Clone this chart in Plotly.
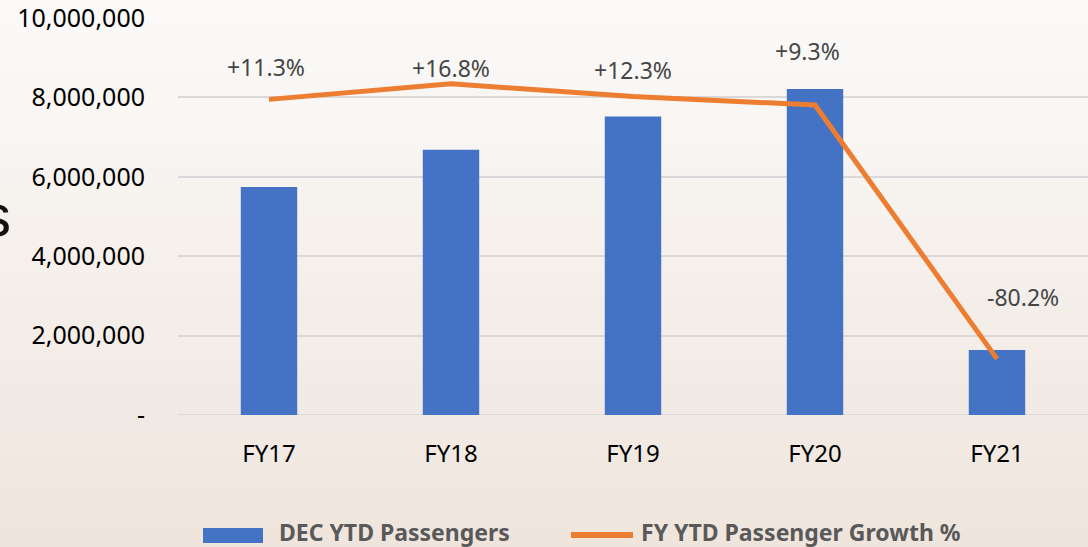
import plotly.graph_objects as go

categories = ["FY17", "FY18", "FY19", "FY20", "FY21"]
passengers = [5740000, 6680000, 7520000, 8210000, 1640000]
growth_pct = [11.3, 16.8, 12.3, 9.3, -80.2]
growth_labels = ["+11.3%", "+16.8%", "+12.3%", "+9.3%", "-80.2%"]
y_tickvals = [0, 2000000, 4000000, 6000000, 8000000, 10000000]
y_ticktext = ["-", "2,000,000", "4,000,000", "6,000,000", "8,000,000", "10,000,000"]
series_names = ["DEC YTD Passengers", "FY YTD Passenger Growth %"]

label_xshift = [-3, 0, 0, -8, 26]
label_yshift = [32, 16, 27, 54, 62]

FONT = "Noto Sans"
W, H = 1088, 547
ML, MR, MT, MB = 178, 0, 18, 132
PW, PH = W - ML - MR, H - MT - MB


def px(x):
    return (x - ML) / PW


def py(y):
    return (H - MB - y) / PH


fig = go.Figure()
fig.add_trace(go.Bar(
    x=categories, y=passengers, name=series_names[0],
    marker=dict(color="#4472c4", line=dict(width=0)), showlegend=False,
))
fig.add_trace(go.Scatter(
    x=categories, y=growth_pct, name=series_names[1],
    mode="lines", line=dict(color="#ed7d31", width=5), yaxis="y2", showlegend=False,
))

for c, g, t, xs, ys in zip(categories, growth_pct, growth_labels, label_xshift, label_yshift):
    fig.add_annotation(x=c, y=g, xref="x", yref="y2", text=t, showarrow=False,
                       xshift=xs, yshift=ys,
                       font=dict(family=FONT, size=23, color="#454545"))

# background gradient bands
n = 30
top = (251, 250, 249)
bot = (239, 229, 221)
for i in range(n):
    f = i / (n - 1)
    col = tuple(round(top[k] + (bot[k] - top[k]) * f) for k in range(3))
    y0 = H * i / n
    y1 = H * (i + 1) / n + 1
    fig.add_shape(type="rect", xref="paper", yref="paper",
                  x0=px(-5), x1=px(W + 5), y0=py(y1), y1=py(y0),
                  line=dict(width=0), fillcolor="rgb(%d,%d,%d)" % col, layer="below")

# cut-off slide text at left edge
fig.add_annotation(xref="paper", yref="paper", x=px(-4), y=py(216), text="s",
                   showarrow=False, xanchor="center", yanchor="middle",
                   font=dict(family="Liberation Sans", size=60, color="#111111"))

# legend (drawn manually to match wide swatches)
fig.add_shape(type="rect", xref="paper", yref="paper",
              x0=px(203), x1=px(263), y0=py(543), y1=py(528),
              line=dict(width=0), fillcolor="#4472c4")
fig.add_annotation(xref="paper", yref="paper", x=px(277), y=py(532), text="<b>%s</b>" % series_names[0],
                   showarrow=False, xanchor="left", yanchor="middle",
                   font=dict(family=FONT, size=23, color="#595959"))
fig.add_shape(type="line", xref="paper", yref="paper",
              x0=px(571), x1=px(633), y0=py(535), y1=py(535),
              line=dict(color="#ed7d31", width=6))
fig.add_annotation(xref="paper", yref="paper", x=px(639), y=py(532), text="<b>%s</b>" % series_names[1],
                   showarrow=False, xanchor="left", yanchor="middle",
                   font=dict(family=FONT, size=23, color="#595959"))

fig.update_layout(
    width=W, height=H,
    margin=dict(l=ML, r=MR, t=MT, b=MB),
    paper_bgcolor="#f6f1ed", plot_bgcolor="rgba(0,0,0,0)",
    bargap=0.69,
    font=dict(family=FONT),
    showlegend=False,
    hovermode=False,
    xaxis=dict(showgrid=False, showline=False, ticks="", ticklabelstandoff=22,
               tickfont=dict(family=FONT, size=24, color="#000000")),
    yaxis=dict(range=[0, 10000000], tickvals=y_tickvals, ticktext=y_ticktext,
               showgrid=True, gridcolor="#d9d9d9", gridwidth=2,
               zeroline=False, showline=False, ticks="", ticklabelstandoff=32,
               ticklabeloverflow="allow",
               tickfont=dict(family=FONT, size=25, color="#000000")),
    yaxis2=dict(range=[-100, 40], overlaying="y", visible=False),
)
fig.add_shape(type="line", xref="paper", yref="y", x0=0, x1=1, y0=0, y1=0,
              line=dict(color="#d9d9d9", width=2), layer="below")

fig.write_html("out.html", config={"displayModeBar": False},
               post_script="document.body.style.margin='0';")
